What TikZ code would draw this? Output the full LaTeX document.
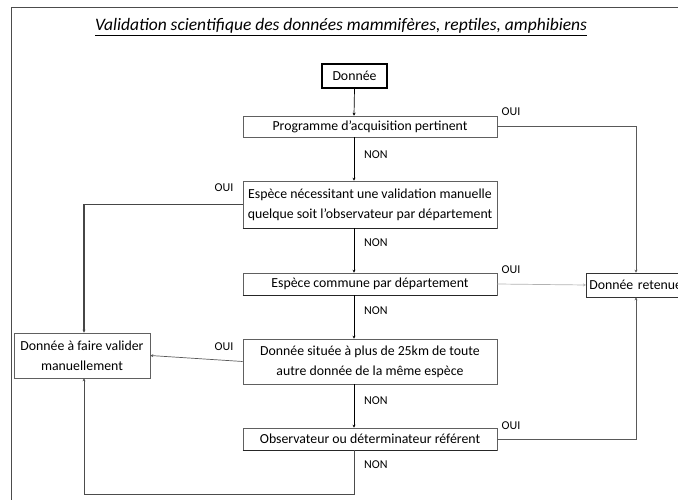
\documentclass[tikz,border=0pt]{standalone}
\usepackage{fontspec}
\setmainfont{Carlito}
\usetikzlibrary{arrows.meta}
\begin{document}
\begin{tikzpicture}[x=1pt,y=-1pt,
  box/.style={draw=gray!75!black, line width=0.6pt, fill=white, inner sep=0pt,
    font=\fontsize{13.8}{20}\selectfont, align=center, minimum width=254pt},
  lbl/.style={font=\fontsize{12}{14}\selectfont, inner sep=0pt},
  non/.style={draw=black, line width=0.7pt, -{Stealth[length=3pt,width=3pt]}},
  oui/.style={draw=gray!70!black, line width=0.7pt, -{Stealth[length=3pt,width=3pt]}},
  base/.style={line width=1.4pt, draw=black!85}
]
\useasboundingbox (0,0) rectangle (678,500);
\clip (0,0) rectangle (678,500);

% frame
\draw[gray!60!black, line width=1pt] (11,500) -- (11,8) -- (678,8);

% title
\node[font=\fontsize{17.5}{20}\selectfont\itshape, inner sep=0pt] (title) at (341,27)
  {\underline{Validation scientifique des données mammifères, reptiles, amphibiens}};

% guide columns
\coordinate (sp) at (354,0);
\coordinate (rx) at (636,0);
\coordinate (lx) at (84,0);

% boxes
\node[box, draw=black, line width=1.2pt, minimum width=65pt, minimum height=24pt] (donnee) at (354.5,76) {Donnée};
\node[box, minimum height=21pt] (prog) at (370,126.5) {Programme d’acquisition pertinent};
\node[box, minimum height=47pt] (nec) at (370,204.5) {Espèce nécessitant une validation manuelle\\quelque soit l’observateur par département};
\node[box, minimum height=22pt] (comm) at (370,284) {Espèce commune par département};
\node[box, minimum height=45pt] (sit) at (370,361.5) {Donnée située à plus de 25km de toute\\autre donnée de la même espèce};
\node[box, minimum height=22pt] (obs) at (370,439) {Observateur ou déterminateur référent};
\node[box, minimum width=136pt, minimum height=45pt] (afaire) at (82,355.5) {Donnée à faire valider\\manuellement};
\node[box, draw=black!80, anchor=west, minimum width=110pt, minimum height=24pt,
  text width=104pt, align=left, inner xsep=3pt] (ret) at (586,285) {Donnée retenue};

% darker lower edges
\draw[base] (nec.south west) -- (nec.south east);
\draw[base] (comm.south west) -- (comm.south east);
\draw[base] (obs.south west) -- (obs.south east);

% NON path down the spine
\draw[non] (donnee.south) -- (sp |- prog.north);
\draw[non] (sp |- prog.south) -- (sp |- nec.north);
\draw[non] (sp |- nec.south) -- (sp |- comm.north);
\draw[non] (sp |- comm.south) -- (sp |- sit.north);
\draw[non] (sp |- sit.south) -- (sp |- obs.north);
\coordinate (bot) at (354,494);
\draw[oui, draw=gray!60!black, line width=0.9pt] (sp |- obs.south) -- (bot) -| (lx |- afaire.south);

% OUI branches
\draw[oui] (prog.east) -| (rx |- ret.north);
\draw[oui, line width=1.2pt, draw=gray!55!black] (nec.west) -| (lx |- afaire.north);
\draw[oui, draw=gray!60] (comm.east) -- (ret.west);
\draw[oui] (sit.west) -- (afaire.east);
\draw[oui] (obs.east) -| (rx |- ret.south);

% labels
\node[lbl, anchor=west] (n1) at (364,155) {NON};
\node[lbl, anchor=west] (n2) at (364,243) {NON};
\node[lbl, anchor=west] (n3) at (364,311) {NON};
\node[lbl, anchor=west] (n4) at (364,401) {NON};
\node[lbl, anchor=west] (n5) at (364,465) {NON};
\node[lbl] (o1) at (511,112) {OUI};
\node[lbl] (o2) at (224,188) {OUI};
\node[lbl] (o3) at (511,270) {OUI};
\node[lbl] (o4) at (224,347) {OUI};
\node[lbl] (o5) at (511,426) {OUI};
\end{tikzpicture}
\end{document}
